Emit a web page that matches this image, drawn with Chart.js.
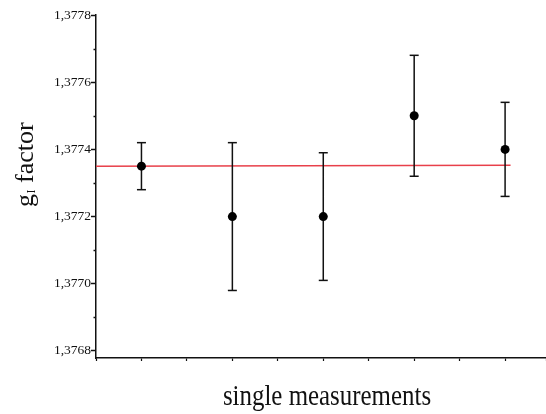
<!DOCTYPE html>
<html><head><meta charset="utf-8">
<script src="https://cdn.jsdelivr.net/npm/chart.js@4/dist/chart.umd.min.js"></script>
<style>html,body{margin:0;padding:0;background:#fff}#wrap{width:546px;height:414px;position:relative}</style>
</head><body><div id="wrap"><canvas id="c" width="546" height="414"></canvas></div>
<script>
// ---- data ----
const measurementX = [1, 3, 5, 7, 9];
const gValues = [1.37735, 1.37720, 1.37720, 1.37750, 1.37740];
const errLow  = [1.37728, 1.37698, 1.37701, 1.37732, 1.37726];
const errHigh = [1.37742, 1.37742, 1.37739, 1.37768, 1.37754];
const meanLineX = [0, 9.12];
const meanLineY = [1.37735, 1.377353];
const yTicks = [1.3768, 1.3770, 1.3772, 1.3774, 1.3776, 1.3778];
const yMinorTicks = [1.3769, 1.3771, 1.3773, 1.3775, 1.3777];
const xTitle = 'single measurements';
const yTitleMain = 'g';
const yTitleSub = 'I';
const yTitleRest = ' factor';

// ---- build datasets ----
const barData = [];
measurementX.forEach((x, i) => {
  barData.push({x: x, y: errLow[i]});
  barData.push({x: x, y: errHigh[i]});
  barData.push({x: x, y: null});
});
const capData = [];
measurementX.forEach((x, i) => {
  capData.push({x: x, y: errLow[i]});
  capData.push({x: x, y: errHigh[i]});
});
const pointData = measurementX.map((x, i) => ({x: x, y: gValues[i]}));
const meanData = meanLineX.map((x, i) => ({x: x, y: meanLineY[i]}));

const serif = '"Liberation Serif", "Times New Roman", serif';

const extras = {
  id: 'extras',
  afterDraw(chart) {
    const ctx = chart.ctx;
    const ys = chart.scales.y;
    const left = chart.chartArea.left;
    ctx.save();
    ctx.strokeStyle = '#111';
    ctx.lineWidth = 1.5;
    yMinorTicks.forEach(v => {
      const py = Math.round(ys.getPixelForValue(v)) + 0.5;
      ctx.beginPath();
      ctx.moveTo(left - 2.5, py);
      ctx.lineTo(left, py);
      ctx.stroke();
    });
    ctx.restore();

    // y title with subscript
    ctx.save();
    ctx.fillStyle = '#111';
    ctx.translate(33, 207);
    ctx.rotate(-Math.PI / 2);
    ctx.textBaseline = 'alphabetic';
    ctx.textAlign = 'left';
    ctx.font = '26px ' + serif;
    ctx.fillText(yTitleMain, 0, 0);
    let w = ctx.measureText(yTitleMain).width;
    ctx.font = '12px ' + serif;
    ctx.fillText(yTitleSub, w + 0.5, 1.5);
    w += ctx.measureText(yTitleSub).width + 0.5;
    ctx.font = '26px ' + serif;
    ctx.fillText(yTitleRest, w, 0);
    ctx.restore();

    // x title
    ctx.save();
    ctx.fillStyle = '#111';
    ctx.translate(327, 405);
    ctx.scale(0.83, 1);
    ctx.font = '30px ' + serif;
    ctx.textAlign = 'center';
    ctx.textBaseline = 'alphabetic';
    ctx.fillText(xTitle, 0, 0);
    ctx.restore();
  }
};

new Chart(document.getElementById('c'), {
  type: 'line',
  data: {
    datasets: [
      {
        label: 'g values',
        data: pointData,
        showLine: false,
        pointRadius: 4.5,
        pointBackgroundColor: '#000',
        pointBorderColor: '#000',
        pointBorderWidth: 0,
        order: 0
      },
      {
        label: 'error caps',
        data: capData,
        showLine: false,
        pointStyle: 'line',
        pointRadius: 4.5,
        pointBorderColor: '#111',
        pointBorderWidth: 1.5,
        order: 1
      },
      {
        label: 'error bars',
        data: barData,
        borderColor: '#111',
        borderWidth: 1.5,
        pointRadius: 0,
        spanGaps: false,
        order: 1
      },
      {
        label: 'mean',
        data: meanData,
        borderColor: '#e8404a',
        borderWidth: 1.5,
        pointRadius: 0,
        order: 2
      }
    ]
  },
  options: {
    responsive: false,
    animation: false,
    events: [],
    layout: { autoPadding: false, padding: { top: 15, right: 0, left: 0, bottom: 0 } },
    plugins: { legend: { display: false }, tooltip: { enabled: false }, title: { display: false } },
    scales: {
      x: {
        type: 'linear',
        min: 0,
        max: 9.9,
        ticks: { display: false, stepSize: 1 },
        grid: { drawOnChartArea: false, tickLength: 3, tickColor: '#111', tickWidth: 1.2 },
        border: { display: true, color: '#111', width: 1.5 },
        afterFit(scale) { scale.height = 56; }
      },
      y: {
        type: 'linear',
        min: 1.376779,
        max: 1.3778,
        afterBuildTicks(scale) { scale.ticks = yTicks.map(v => ({value: v})); },
        ticks: {
          padding: 0,
          color: '#111',
          font: { family: serif, size: 13.5 },
          callback: v => Number(v).toFixed(4).replace('.', ',')
        },
        grid: { drawOnChartArea: false, tickLength: 5, tickColor: '#111', tickWidth: 1.5 },
        border: { display: true, color: '#111', width: 1.5 },
        afterFit(scale) { scale.width = 96; }
      }
    }
  },
  plugins: [extras]
});
</script>
</body></html>
